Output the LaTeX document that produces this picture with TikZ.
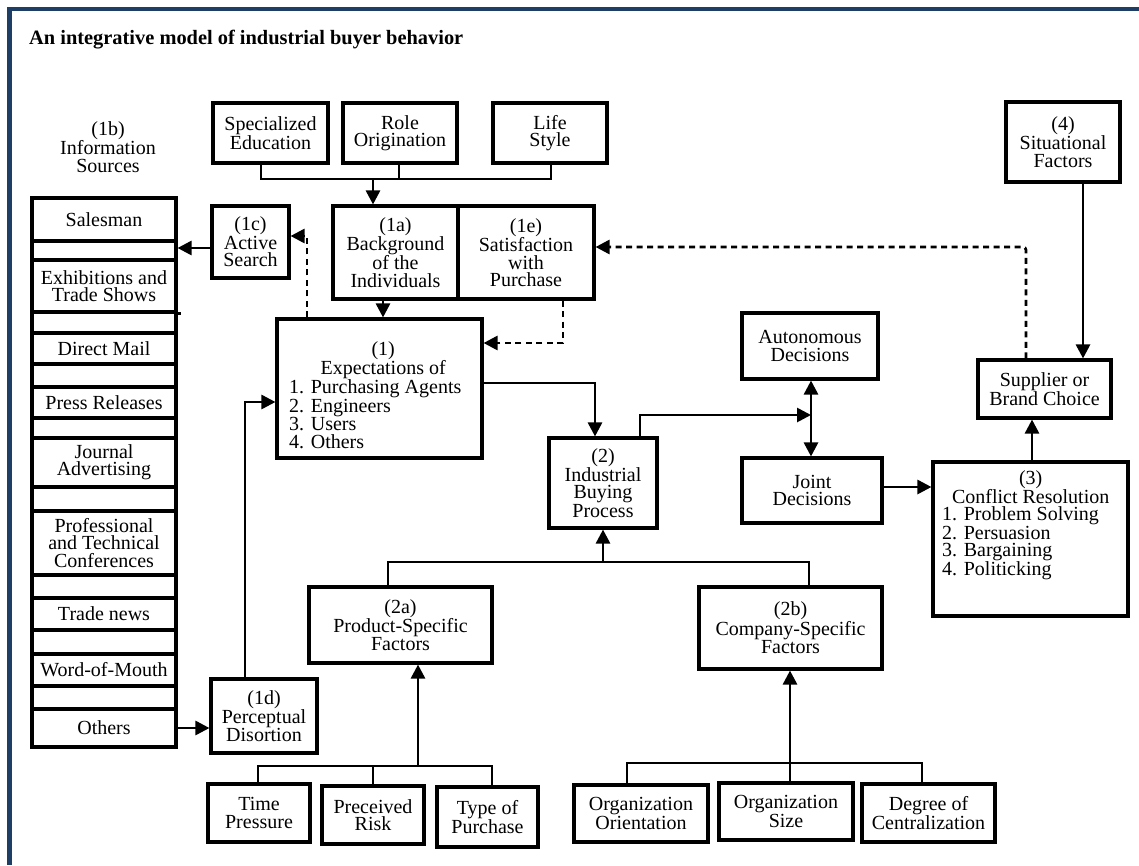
\documentclass[tikz,border=0pt]{standalone}
\usepackage{fontspec}
\setmainfont{Liberation Serif}
\usetikzlibrary{arrows.meta}
\definecolor{framecol}{HTML}{1F3E66}
\newcommand\bodyfnt{\fontsize{20}{17.4}\selectfont}
\newcommand\titlefnt{\fontsize{20.4}{24}\selectfont\bfseries}
\tikzset{
  box/.style={draw, line width=3.1pt, inner sep=0pt, align=center, font=\bodyfnt},
  txt/.style={inner sep=0pt, align=center, font=\bodyfnt},
  plain/.style={line width=2.7pt},
  conn/.style={line width=2.7pt, -{Triangle[length=14pt,width=14pt]}},
  dbl/.style={line width=2.7pt, {Triangle[length=14pt,width=14pt]}-{Triangle[length=14pt,width=14pt]}},
  dashconn/.style={conn, dash pattern=on 6pt off 4.5pt}
}
\newcommand\bx[6]{\node[box, minimum width={#4-#2}, minimum height={#5-#3}] (#1) at ({(#2+#4)/2},{(#3+#5)/2}) {#6};}
\newcommand\rw[4]{\node[box, minimum width=144, minimum height={#3-#2}] (#1) at (104,{(#2+#3)/2}) {#4};}
\begin{document}
\begin{tikzpicture}[x=1pt,y=-1pt]
\useasboundingbox (0,0) rectangle (1139,865);
\draw[framecol, line width=4.3pt] (9.5,865) -- (9.5,9) -- (1139,9);

\node[anchor=west, inner sep=0pt, font=\titlefnt] (title) at (29,40) {An integrative model of industrial buyer behavior};

% top boxes
\bx{spec}{213}{103}{328}{163}{Specialized\\Education}
\bx{role}{343}{103}{457}{163}{Role\\Origination}
\bx{life}{493}{103}{607}{163}{Life\\Style}
\bx{bg}{333}{206}{458}{299}{(1a)\\Background\\of the\\Individuals}
\bx{sat}{458}{206}{594}{299}{(1e)\\Satisfaction\\with\\Purchase}
\bx{act}{212}{206}{289}{278}{(1c)\\Active\\Search}
\bx{exp}{277}{319}{482}{458}{}
\node[txt, align=left, anchor=north west] (expT) at (289,341) {\makebox[188pt][c]{(1)}\\\makebox[188pt][c]{Expectations of}\\1. Purchasing Agents\\2. Engineers\\3. Users\\4. Others};

\bx{ibp}{549}{438}{657}{528}{(2)\\Industrial\\Buying\\Process}
\bx{auto}{742}{313}{878}{379}{Autonomous\\Decisions}
\bx{joint}{742}{458}{882}{523}{Joint\\Decisions}
\bx{cr}{933}{462}{1128}{616}{}
\node[txt, align=left, anchor=north west] (crT) at (942,470) {\makebox[177pt][c]{(3)}\\\makebox[177pt][c]{Conflict Resolution}\\1. Problem Solving\\2. Persuasion\\3. Bargaining\\4. Politicking};
\bx{sit}{1006}{102}{1120}{182}{(4)\\Situational\\Factors}
\bx{sup}{978}{360}{1111}{418}{Supplier or\\Brand Choice}

\bx{pa}{309}{587}{492}{663}{(2a)\\Product-Specific\\Factors}
\bx{pb}{699}{587}{882}{669}{(2b)\\Company-Specific\\Factors}
\bx{d1}{211}{679}{317}{753}{(1d)\\Perceptual\\Disortion}
\bx{tp}{208}{784}{310}{842}{Time\\Pressure}
\bx{pr}{322}{786}{424}{844}{Preceived\\Risk}
\bx{typ}{437}{787}{538}{847}{Type of\\Purchase}
\bx{oo}{574}{785}{708}{842}{Organization\\Orientation}
\bx{os}{719}{783}{853}{840}{Organization\\Size}
\bx{dc}{862}{784}{995}{842}{Degree of\\Centralization}

% information sources
\node[txt] (infolbl) at (108,147) {(1b)\\Information\\Sources};
\rw{r1}{198}{241}{Salesman}
\rw{r2}{241}{260}{}
\rw{r3}{260}{312}{Exhibitions and\\Trade Shows}
\rw{r4}{312}{333}{}
\rw{r5}{333}{364}{Direct Mail}
\rw{r6}{364}{387}{}
\rw{r7}{387}{418}{Press Releases}
\rw{r8}{418}{438}{}
\rw{r9}{438}{487}{Journal\\Advertising}
\rw{r10}{487}{511}{}
\rw{r11}{511}{575}{Professional\\and Technical\\Conferences}
\rw{r12}{575}{598}{}
\rw{r13}{598}{630}{Trade news}
\rw{r14}{630}{654}{}
\rw{r15}{654}{686}{Word-of-Mouth}
\rw{r16}{686}{709}{}
\rw{r17}{709}{747}{Others}
\draw[line width=3.1pt] (r3.south east) -- ++(3,0);

% junction coordinates
\coordinate (ja1) at (261,179);
\coordinate (ja2) at (399,179);
\coordinate (ja3) at (551,179);
\coordinate (jaa) at (373,179);
\coordinate (xb) at (383,0);
\coordinate (jc) at (307,236);
\coordinate (jd) at (563,343);
\coordinate (je) at (0,248);
\coordinate (jg) at (245,402);
\coordinate (jh) at (595,383);
\coordinate (ji) at (640,415);
\coordinate (jk) at (811,415);
\coordinate (jl) at (0,487);
\coordinate (jm) at (1032,0);
\coordinate (jn) at (1083,0);
\coordinate (jo) at (1026,247);
\coordinate (jp1) at (388,562);
\coordinate (jp2) at (809,562);
\coordinate (jp) at (603,562);
\coordinate (jt1) at (258,766);
\coordinate (jt2) at (373,766);
\coordinate (jt3) at (492,766);
\coordinate (jt) at (418,766);
\coordinate (jo1) at (627,763);
\coordinate (jo2) at (790,763);
\coordinate (jo3) at (922,763);

% connectors
\draw[plain] (spec.south -| ja1) -- (ja1) -- (ja3) -- (life.south -| ja3);
\draw[plain] (role.south -| ja2) -- (ja2);
\draw[conn] (jaa) -- (bg.north -| jaa);
\draw[conn] (bg.south -| xb) -- (exp.north -| xb);
\draw[dashconn] (exp.north -| jc) -- (jc) -- (act.east |- jc);
\draw[dashconn] (sat.south -| jd) -- (jd) -- (exp.east |- jd);
\draw[conn] (act.west |- je) -- (r2.east |- je);
\draw[conn] (r17.east) -- (r17.east -| d1.west);
\draw[conn] (d1.north -| jg) -- (jg) -- (exp.west |- jg);
\draw[conn] (exp.east |- jh) -- (jh) -- (ibp.north -| jh);
\draw[conn] (ibp.north -| ji) -- (ji) -- (jk);
\draw[dbl] (auto.south -| jk) -- (joint.north -| jk);
\draw[conn] (joint.east |- jl) -- (cr.west |- jl);
\draw[conn] (cr.north -| jm) -- (sup.south -| jm);
\draw[conn] (sit.south -| jn) -- (sup.north -| jn);
\draw[dashconn, rounded corners=3pt] (sup.north -| jo) -- (jo) -- (sat.east |- jo);
\draw[plain] (pa.north -| jp1) -- (jp1) -- (jp2) -- (pb.north -| jp2);
\draw[conn] (jp) -- (ibp.south -| jp);
\draw[plain] (tp.north -| jt1) -- (jt1) -- (jt3) -- (typ.north -| jt3);
\draw[plain] (pr.north -| jt2) -- (jt2);
\draw[conn] (jt) -- (pa.south -| jt);
\draw[plain] (oo.north -| jo1) -- (jo1) -- (jo3) -- (dc.north -| jo3);
\draw[conn] (os.north -| jo2) -- (pb.south -| jo2);
\end{tikzpicture}
\end{document}
